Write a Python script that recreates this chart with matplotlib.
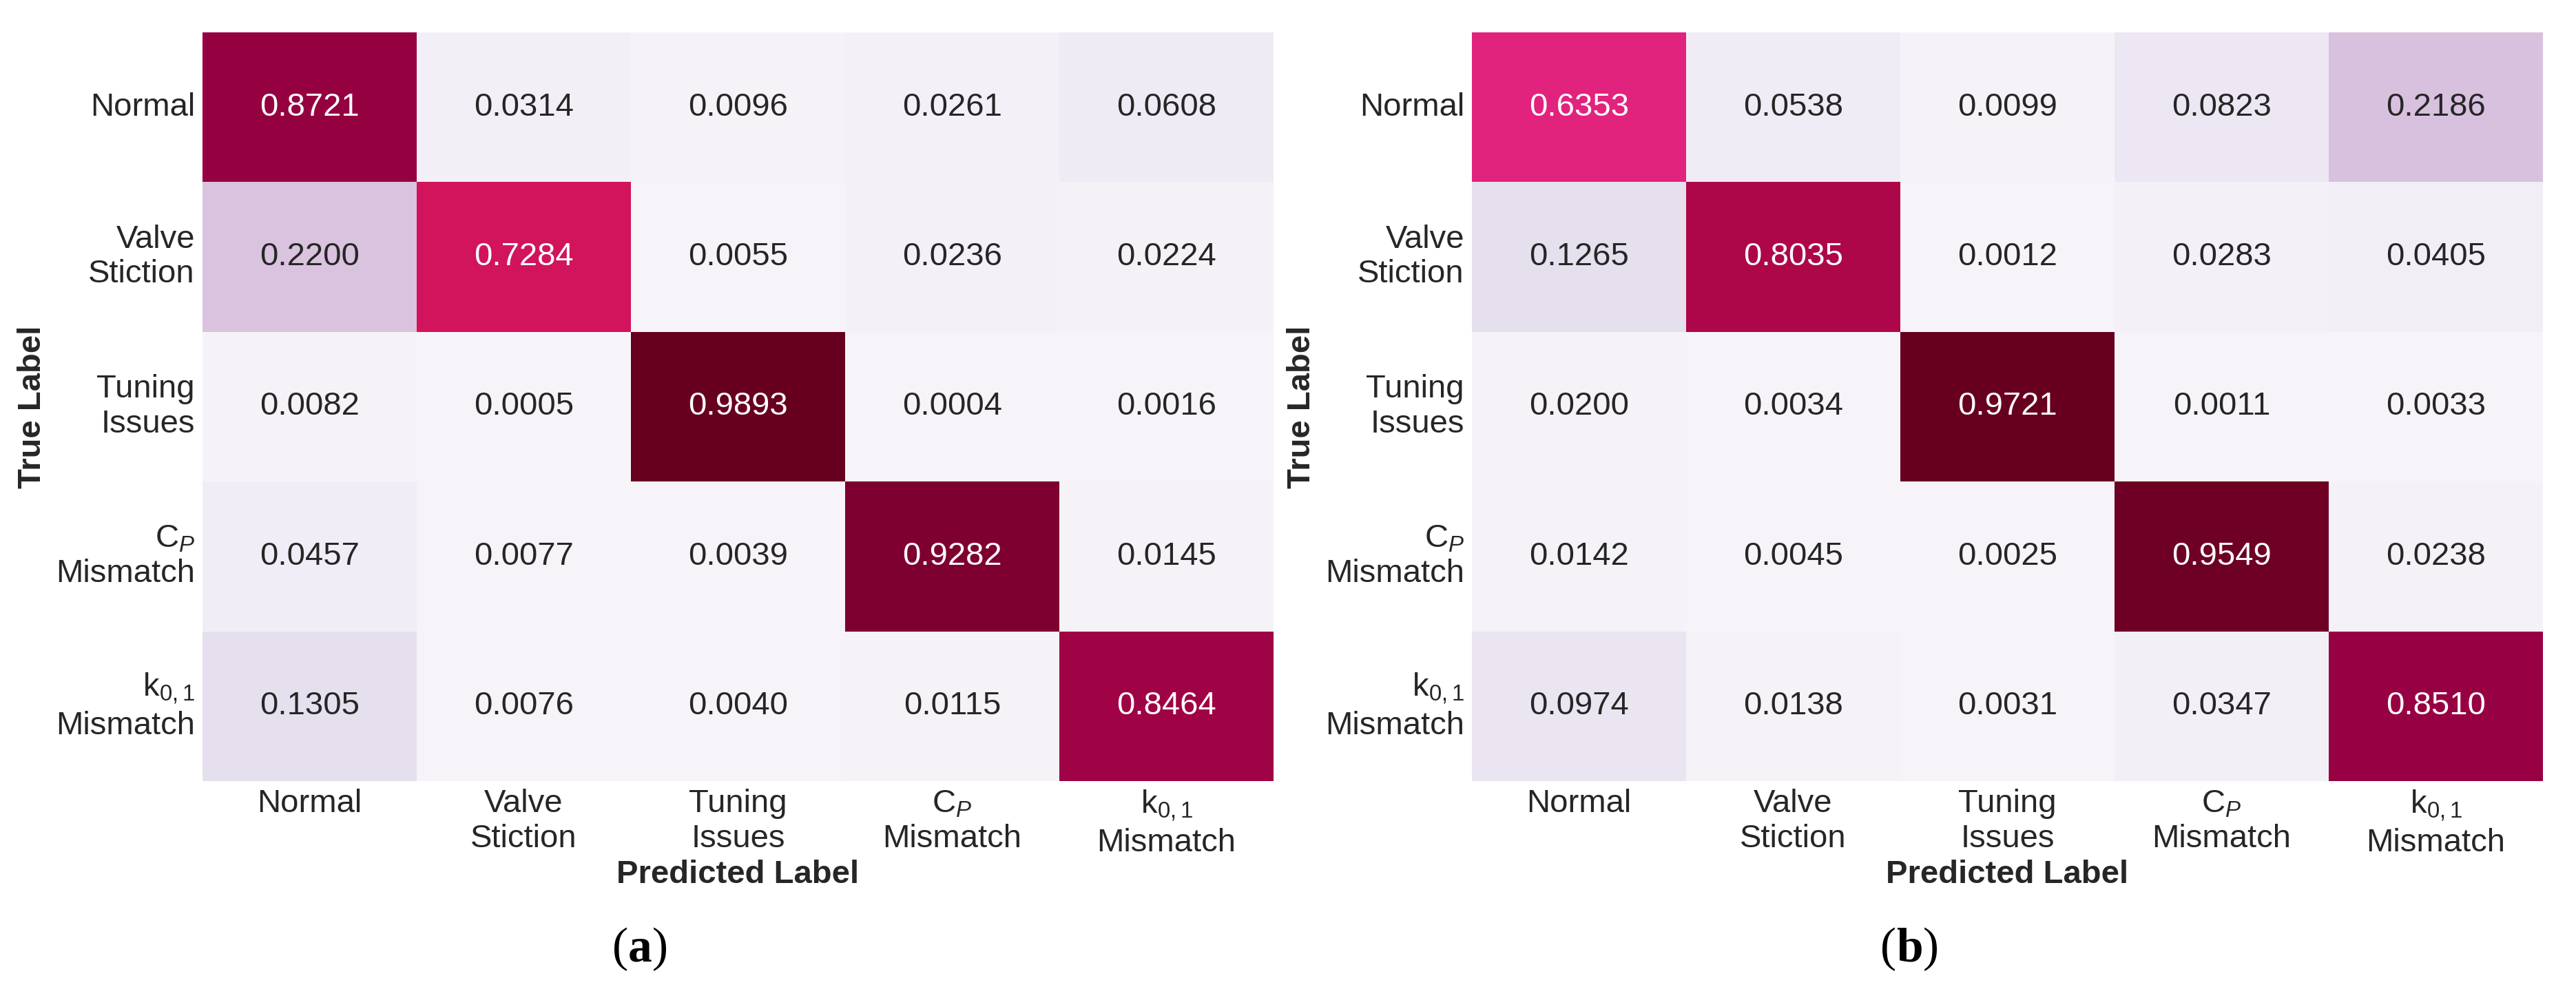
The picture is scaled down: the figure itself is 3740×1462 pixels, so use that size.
import matplotlib
matplotlib.use('Agg')
import matplotlib.pyplot as plt
import numpy as np
import seaborn as sns

plt.rcParams['font.family'] = ['Liberation Sans', 'DejaVu Sans']
plt.rcParams['mathtext.fontset'] = 'custom'
plt.rcParams['mathtext.rm'] = 'Liberation Sans'
plt.rcParams['mathtext.it'] = 'Liberation Sans:italic'
plt.rcParams['mathtext.bf'] = 'Liberation Sans:bold'
plt.rcParams['text.color'] = '.15'
plt.rcParams['xtick.color'] = '.15'
plt.rcParams['ytick.color'] = '.15'
plt.rcParams['axes.labelcolor'] = '.15'

# 类别标签
class_labels = ['Normal', 'Valve\nStiction', 'Tuning\nIssues',
                'C$_P$\nMismatch', 'k$_{0,1}$\nMismatch']

# (a) 混淆矩阵
cm_a = [[0.8721, 0.0314, 0.0096, 0.0261, 0.0608],
        [0.2200, 0.7284, 0.0055, 0.0236, 0.0224],
        [0.0082, 0.0005, 0.9893, 0.0004, 0.0016],
        [0.0457, 0.0077, 0.0039, 0.9282, 0.0145],
        [0.1305, 0.0076, 0.0040, 0.0115, 0.8464]]

# (b) 混淆矩阵
cm_b = [[0.6353, 0.0538, 0.0099, 0.0823, 0.2186],
        [0.1265, 0.8035, 0.0012, 0.0283, 0.0405],
        [0.0200, 0.0034, 0.9721, 0.0011, 0.0033],
        [0.0142, 0.0045, 0.0025, 0.9549, 0.0238],
        [0.0974, 0.0138, 0.0031, 0.0347, 0.8510]]

captions = ['a', 'b']

W, H, DPI = 3740, 1462, 200
fig = plt.figure(figsize=(W / DPI, H / DPI), dpi=DPI)

ax_left = [294 / W, 2137 / W]
ax_w = 1555 / W
ax_bottom = 1 - 1134 / H
ax_h = 1087 / H

cap_texts = []
for i, cm in enumerate([cm_a, cm_b]):
    ax = fig.add_axes([ax_left[i], ax_bottom, ax_w, ax_h])
    sns.heatmap(np.array(cm), ax=ax, cmap='PuRd',
                annot=True, fmt='.4f', cbar=False,
                annot_kws={'fontsize': 17},
                xticklabels=class_labels, yticklabels=class_labels)
    ax.tick_params(length=0, labelsize=17, pad=4)
    plt.setp(ax.get_yticklabels(), rotation=0, ha='right')
    plt.setp(ax.get_xticklabels(), rotation=0, ha='center')
    ax.set_xlabel('Predicted Label', fontsize=17, fontweight='bold')
    ax.set_ylabel('True Label', fontsize=17, fontweight='bold')
    ax.xaxis.set_label_coords(0.5, -0.125)
    ax.xaxis.label.set_verticalalignment('center')
    ax.yaxis.set_label_coords(-0.159, 0.5)
    ax.yaxis.label.set_verticalalignment('center')

    # 子图标题: 括号常规, 字母加粗
    cx = (ax_left[i] * W + 635) / W
    t = fig.text(cx, 1 - 1395 / H, captions[i], ha='center', va='baseline',
                 fontsize=25, fontweight='bold', family='Liberation Serif', color='black')
    cap_texts.append(t)

fig.canvas.draw()
r = fig.canvas.get_renderer()
for t in cap_texts:
    bb = t.get_window_extent(r)
    x0, x1 = bb.x0 / fig.bbox.width, bb.x1 / fig.bbox.width
    y = t.get_position()[1]
    fig.text(x0, y, '(', ha='right', va='baseline', fontsize=25,
             family='Liberation Serif', color='black')
    fig.text(x1, y, ')', ha='left', va='baseline', fontsize=25,
             family='Liberation Serif', color='black')

fig.savefig('out.png', dpi=DPI)
